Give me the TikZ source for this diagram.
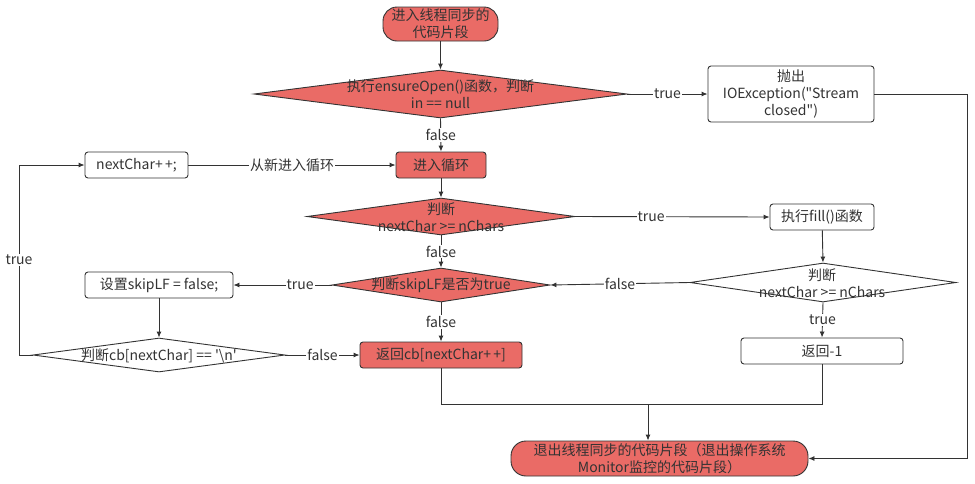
\documentclass[tikz,border=0pt]{standalone}
\usepackage{fontspec}
\setmainfont{Noto Sans CJK SC}[Ligatures=TeXOff]
\usetikzlibrary{shapes.geometric,arrows.meta}
\definecolor{rd}{HTML}{EA6B66}
\definecolor{ln}{HTML}{333333}
\begin{document}
\begin{tikzpicture}[x=1pt,y=-1pt,
  font=\fontsize{14}{17}\selectfont, text=ln,
  term/.style={draw=ln, fill=rd, rounded corners=14pt, align=center, line width=0.9pt, inner sep=0pt},
  box/.style={draw=ln, rounded corners=3pt, align=center, line width=0.9pt, inner sep=0pt, fill=white},
  rbox/.style={box, fill=rd},
  dia/.style={draw=ln, diamond, inner sep=0pt, line width=0.9pt},
  dtext/.style={align=center, inner sep=0pt},
  arr/.style={draw=ln, line width=0.9pt, -{Latex[length=6pt,width=5pt]}},
  ln0/.style={draw=ln, line width=0.9pt},
  elab/.style={fill=white, inner sep=1pt, text=ln}
]
\useasboundingbox (0,0) rectangle (975,483);

% nodes
\node[term, minimum width=115, minimum height=34] (start) at (440.5,24) {进入线程同步的\\代码片段};
\node[dia, fill=rd, minimum width=373, minimum height=48] (d1) at (440.5,94) {};
\node[dtext] (d1t) at (440.5,94.5) {执行ensureOpen()函数，判断\\in == null};
\node[box, minimum width=166, minimum height=56] (ioe) at (791,94) {抛出\\IOException("Stream\\closed")};
\node[rbox, minimum width=90, minimum height=26] (loop) at (441,165) {进入循环};
\node[box, minimum width=103, minimum height=26] (next) at (136.5,165) {nextChar+\,+;};
\node[dia, fill=rd, minimum width=268, minimum height=37] (d2) at (441,216.5) {};
\node[dtext] (d2t) at (441,217.5) {判断\\nextChar >= nChars};
\node[box, minimum width=104, minimum height=26] (fill) at (822,217) {执行fill()函数};
\node[dia, fill=white, minimum width=266, minimum height=39] (d3) at (823,282.5) {};
\node[dtext] (d3t) at (822,283.5) {判断\\nextChar >= nChars};
\node[dia, fill=rd, minimum width=218, minimum height=34] (d4) at (441,285) {};
\node[dtext] (d4t) at (441,285.5) {判断skipLF是否为true};
\node[box, minimum width=148, minimum height=26] (skip) at (159,285) {设置skipLF = false;};
\node[dia, fill=white, minimum width=252, minimum height=34] (d5) at (159,355) {};
\node[dtext] (d5t) at (159,355.5) {判断cb[nextChar] == '\textbackslash n'};
\node[rbox, minimum width=162, minimum height=26] (retcb) at (441,355) {返回cb[nextChar+\,+]};
\node[box, minimum width=162, minimum height=26] (ret1) at (822,351) {返回-1};
\node[term, minimum width=297, minimum height=35, rounded corners=15pt] (endt) at (659.5,458.5) {退出线程同步的代码片段（退出操作系统\\Monitor监控的代码片段）};

\coordinate (c1) at (967,94);
\coordinate (c2) at (19,355);
\coordinate (c3) at (441,404);
\coordinate (c4) at (648,404);

% connectors
\draw[arr] (start) -- (d1);
\draw[arr] (d1.east) -- node[elab] {true} (ioe.west);
\draw[arr] (d1.south) -- node[elab] {false} (loop.north);
\draw[arr] (ioe.east) -- (c1) |- (endt.east);
\draw[arr] (loop) -- (d2.north);
\draw[arr] (d2.east) -- node[elab, pos=0.39] {true} (fill.west);
\draw[arr] (fill) -- (d3.north);
\draw[arr] (d3.west) -- node[elab] {false} (d4.east);
\draw[arr] (d3.south) -- node[elab] {true} (ret1.north);
\draw[arr] (d2.south) -- node[elab] {false} (d4.north);
\draw[arr] (d4.west) -- node[elab, pos=0.32] {true} (skip.east);
\draw[arr] (skip) -- (d5.north);
\draw[arr] (d5.east) -- node[elab] {false} (retcb.west);
\draw[arr] (d5.west) -- (c2) -- node[elab] {true} (c2 |- next.west) -- (next.west);
\draw[arr] (next.east) -- node[elab] {从新进入循环} (loop.west);
\draw[arr] (d4.south) -- node[elab] {false} (retcb.north);
\draw[ln0] (retcb.south) -- (c3) -| (ret1.south);
\draw[arr] (c4) -- (c4 |- endt.north);
\end{tikzpicture}
\end{document}
